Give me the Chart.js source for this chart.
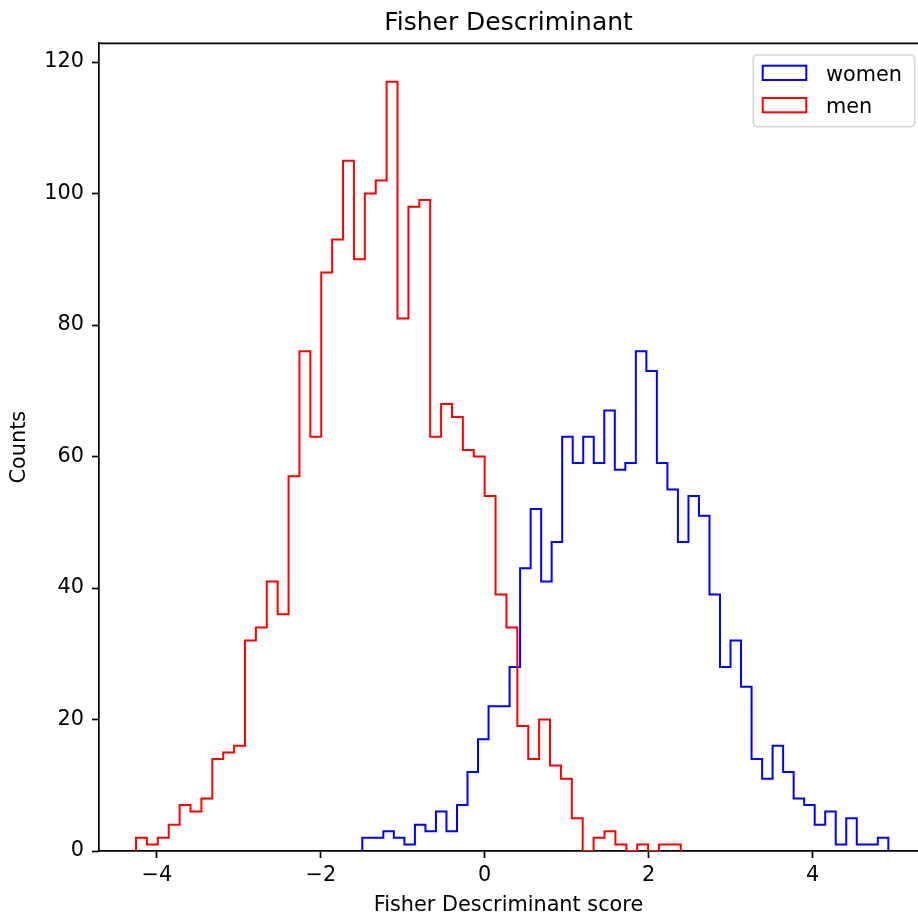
<!DOCTYPE html>
<html>
<head>
<meta charset="utf-8">
<script src="https://cdn.jsdelivr.net/npm/chart.js@4.4.1/dist/chart.umd.min.js"></script>
<style>
  html, body { margin: 0; padding: 0; background: #fff; }
  #wrap { width: 918px; height: 917px; position: relative; }
</style>
</head>
<body>
<div id="wrap"><canvas id="fisherChart"></canvas></div>
<script>
// histogram counts (50 bins each)
const womenCounts = [2,2,3,2,1,4,3,6,3,7, 12,17,22,22,28,43,52,41,47,63,
                     59,63,59,67,58,59,76,73,59,55, 47,54,51,39,28,32,25,14,11,16,
                     12,8,7,4,6,1,5,1,1,2];
const menCounts = [2,1,2,4,7,6,8,14,15,16, 32,34,41,36,57,76,63,88,93,105,
                   90,100,102,117,81,98,99,63,68,66, 61,60,54,39,34,19,14,20,13,11,
                   5,0,2,3,1,0,1,0,1,1];
// bin ranges (score units)
const womenRange = [-1.494, 4.925];
const menRange = [-4.255, 2.392];
const seriesLabels = ['women', 'men'];
const xTicks = [-4, -2, 0, 2, 4];
const yTicks = [0, 20, 40, 60, 80, 100, 120];

const FONT = "'DejaVu Sans', 'Liberation Sans', sans-serif";
Chart.defaults.font.family = FONT;
Chart.defaults.color = '#000';

// outline of a step histogram: up from 0 at the first edge, down to 0 at the last
function stepOutline(counts, range) {
  const w = (range[1] - range[0]) / counts.length;
  const pts = [{ x: range[0], y: 0 }];
  counts.forEach((c, i) => pts.push({ x: range[0] + i * w, y: c }));
  pts.push({ x: range[1], y: 0 });
  return pts;
}

const extras = {
  id: 'extras',
  afterDraw(chart) {
    const { ctx, chartArea: a } = chart;
    ctx.save();
    // top spine
    ctx.strokeStyle = '#000';
    ctx.lineWidth = 1.7;
    ctx.beginPath();
    ctx.moveTo(a.left - 0.85, a.top);
    ctx.lineTo(a.right, a.top);
    ctx.stroke();

    // title
    ctx.fillStyle = '#000';
    ctx.font = '25px ' + FONT;
    ctx.textAlign = 'center';
    ctx.textBaseline = 'alphabetic';
    ctx.fillText('Fisher Descriminant', (a.left + a.right) / 2, 30);

    // legend
    const bx = a.right - 164.7, by = a.top + 11.7, bw = 161.4, bh = 71.7;
    ctx.fillStyle = 'rgba(255,255,255,0.8)';
    ctx.strokeStyle = 'rgba(204,204,204,0.8)';
    ctx.lineWidth = 1.7;
    ctx.beginPath();
    ctx.roundRect(bx, by, bw, bh, 4);
    ctx.fill();
    ctx.stroke();
    ctx.font = '20.8px ' + FONT;
    ctx.textAlign = 'left';
    chart.data.datasets.forEach((ds, i) => {
      const ry = by + 10.7 + i * 32.3;
      ctx.strokeStyle = ds.borderColor;
      ctx.lineWidth = 2;
      ctx.strokeRect(bx + 9.4, ry, 43.6, 14.3);
      ctx.fillStyle = '#000';
      ctx.fillText(ds.label, bx + 72.7, ry + 15);
    });
    ctx.restore();
  }
};

new Chart(document.getElementById('fisherChart'), {
  type: 'line',
  data: {
    datasets: [
      {
        label: seriesLabels[0],
        data: stepOutline(womenCounts, womenRange),
        borderColor: '#0000ff',
        borderWidth: 2,
        stepped: 'before',
        pointRadius: 0,
        fill: false,
        order: 2
      },
      {
        label: seriesLabels[1],
        data: stepOutline(menCounts, menRange),
        borderColor: '#ff0000',
        borderWidth: 2,
        stepped: 'before',
        pointRadius: 0,
        fill: false,
        order: 1
      }
    ]
  },
  options: {
    responsive: true,
    maintainAspectRatio: false,
    animation: false,
    layout: { padding: { top: 43.3, left: 0, right: 0, bottom: 0 } },
    plugins: { legend: { display: false }, tooltip: { enabled: false } },
    scales: {
      x: {
        type: 'linear',
        min: -4.707,
        max: 5.287,
        afterFit: (s) => { s.height = 66; },
        afterBuildTicks: (s) => { s.ticks = xTicks.map(v => ({ value: v })); },
        ticks: {
          font: { size: 20.8 },
          padding: 5,
          callback: (v) => (v < 0 ? '\u2212' + Math.abs(v) : String(v))
        },
        grid: { drawOnChartArea: false, drawTicks: true, tickLength: 7, tickWidth: 1.7, tickColor: '#000' },
        border: { display: true, color: '#000', width: 1.7 },
        title: {
          display: true,
          text: 'Fisher Descriminant score',
          font: { size: 20.8 },
          padding: { top: 0, bottom: -1.5 }
        }
      },
      y: {
        min: 0,
        max: 122.85,
        afterFit: (s) => { s.width = 99; },
        afterBuildTicks: (s) => { s.ticks = yTicks.map(v => ({ value: v })); },
        ticks: { font: { size: 20.8 }, padding: 8 },
        grid: { drawOnChartArea: false, drawTicks: true, tickLength: 7, tickWidth: 1.7, tickColor: '#000' },
        border: { display: true, color: '#000', width: 1.7 },
        title: {
          display: true,
          text: 'Counts',
          font: { size: 20.8 },
          padding: { top: 7.5, bottom: 0 }
        }
      }
    }
  },
  plugins: [extras]
});
</script>
</body>
</html>
